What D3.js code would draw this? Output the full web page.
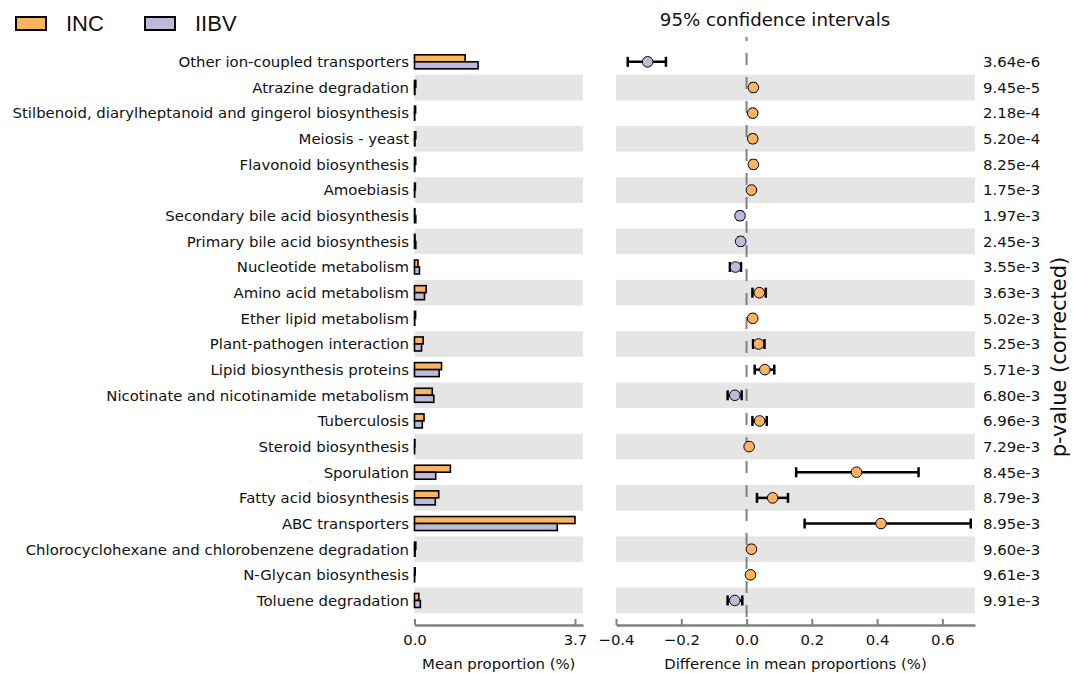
<!DOCTYPE html>
<html><head><meta charset="utf-8">
<script src="https://cdn.jsdelivr.net/npm/d3@7"></script>
<style>
html,body{margin:0;padding:0;background:#fff;}
svg{display:block;}
text{font-family:"DejaVu Sans",sans-serif;fill:#111;}
</style></head>
<body>
<svg id="chart" width="1078" height="673"></svg>
<script>
const categories = ["Other ion-coupled transporters","Atrazine degradation","Stilbenoid, diarylheptanoid and gingerol biosynthesis","Meiosis - yeast","Flavonoid biosynthesis","Amoebiasis","Secondary bile acid biosynthesis","Primary bile acid biosynthesis","Nucleotide metabolism","Amino acid metabolism","Ether lipid metabolism","Plant-pathogen interaction","Lipid biosynthesis proteins","Nicotinate and nicotinamide metabolism","Tuberculosis","Steroid biosynthesis","Sporulation","Fatty acid biosynthesis","ABC transporters","Chlorocyclohexane and chlorobenzene degradation","N-Glycan biosynthesis","Toluene degradation"];
const groups = ["INC","IIBV"];
const incMean  = [1.17,0.03,0.025,0.03,0.028,0.02,0.01,0.012,0.08,0.27,0.025,0.20,0.625,0.41,0.22,0.01,0.83,0.56,3.71,0.03,0.015,0.10];
const iibvMean = [1.47,0.01,0.006,0.011,0.007,0.005,0.03,0.03,0.115,0.23,0.006,0.163,0.57,0.446,0.18,0.002,0.49,0.48,3.30,0.015,0.003,0.136];
const diffMean = [-0.303,0.021,0.019,0.019,0.021,0.015,-0.020,-0.018,-0.034,0.039,0.019,0.037,0.056,-0.036,0.040,0.008,0.337,0.080,0.412,0.015,0.012,-0.036];
const ciLow    = [-0.364,0.014,0.013,0.012,0.014,0.010,-0.027,-0.025,-0.051,0.018,0.014,0.020,0.025,-0.058,0.018,0.005,0.152,0.032,0.178,0.010,0.008,-0.058];
const ciHigh   = [-0.247,0.028,0.025,0.026,0.028,0.020,-0.013,-0.012,-0.017,0.059,0.024,0.055,0.085,-0.015,0.062,0.011,0.527,0.127,0.687,0.020,0.016,-0.013];
const pValues  = ["3.64e-6","9.45e-5","2.18e-4","5.20e-4","8.25e-4","1.75e-3","1.97e-3","2.45e-3","3.55e-3","3.63e-3","5.02e-3","5.25e-3","5.71e-3","6.80e-3","6.96e-3","7.29e-3","8.45e-3","8.79e-3","8.95e-3","9.60e-3","9.61e-3","9.91e-3"];
const ciTicks = [-0.4,-0.2,0.0,0.2,0.4,0.6];

const colors = {INC:"#fdb462", IIBV:"#bebada"};
const bandColor = "#e5e5e5", axisColor = "#808080";
const fs = 14.9;

const svg = d3.select("#chart");
const y = d3.scaleBand().domain(categories).range([49, 613.3]).paddingInner(0).paddingOuter(0);
const maxMean = d3.max(incMean.concat(iibvMean));
const xBar = d3.scaleLinear().domain([0, maxMean*1.05]).range([414.5, 583]);
const xCI = d3.scaleLinear().domain([-0.4, 0.7]).range([616, 975]);
const cy = c => y(c) + y.bandwidth()/2;

// bands
const bandRows = categories.filter((c,i)=>i%2===1);
svg.append("g").selectAll("rect").data(bandRows).join("rect")
  .attr("x", xBar.range()[0]).attr("width", xBar.range()[1]-xBar.range()[0])
  .attr("y", d=>y(d)).attr("height", y.bandwidth()).attr("fill", bandColor);
svg.append("g").selectAll("rect").data(bandRows).join("rect")
  .attr("x", xCI.range()[0]).attr("width", xCI.range()[1]-xCI.range()[0])
  .attr("y", d=>y(d)).attr("height", y.bandwidth()).attr("fill", bandColor);

// row labels
svg.append("g").selectAll("text").data(categories).join("text")
  .attr("x", 409).attr("y", d=>cy(d)).attr("dy","0.36em")
  .attr("text-anchor","end").style("font-size", fs+"px").text(d=>d);

// bars
const barH = 7;
const gBars = svg.append("g");
gBars.selectAll("rect.inc").data(categories).join("rect").attr("class","inc")
  .attr("x", xBar(0)).attr("y", d=>cy(d)-barH).attr("height", barH)
  .attr("width", (d,i)=>xBar(incMean[i])-xBar(0))
  .attr("fill", colors.INC).attr("stroke","#000").attr("stroke-width",1.6);
gBars.selectAll("rect.iibv").data(categories).join("rect").attr("class","iibv")
  .attr("x", xBar(0)).attr("y", d=>cy(d)).attr("height", barH)
  .attr("width", (d,i)=>xBar(iibvMean[i])-xBar(0))
  .attr("fill", colors.IIBV).attr("stroke","#000").attr("stroke-width",1.6);

// zero line
svg.append("line").attr("x1", xCI(0)).attr("x2", xCI(0)).attr("y1", 37).attr("y2", 617)
  .attr("stroke", axisColor).attr("stroke-width", 2)
  .attr("stroke-dasharray","12,12").attr("stroke-dashoffset", 8);

// CI
const gCI = svg.append("g");
categories.forEach((c,i)=>{
  const g = gCI.append("g");
  const yy = cy(c);
  g.append("line").attr("x1", xCI(ciLow[i])).attr("x2", xCI(ciHigh[i])).attr("y1",yy).attr("y2",yy)
    .attr("stroke","#000").attr("stroke-width",2.5);
  [ciLow[i], ciHigh[i]].forEach(v=>{
    g.append("line").attr("x1", xCI(v)).attr("x2", xCI(v)).attr("y1", yy-5).attr("y2", yy+5)
      .attr("stroke","#000").attr("stroke-width",2.5);
  });
  g.append("circle").attr("cx", xCI(diffMean[i])).attr("cy", yy).attr("r", 5.3)
    .attr("fill", diffMean[i] >= 0 ? colors.INC : colors.IIBV)
    .attr("stroke","#000").attr("stroke-width",1);
});

// p-values
svg.append("g").selectAll("text").data(categories).join("text")
  .attr("x", 983).attr("y", d=>cy(d)).attr("dy","0.36em")
  .style("font-size", fs+"px").text((d,i)=>pValues[i]);

// axes
function styleAxis(g){
  g.select(".domain").attr("stroke", axisColor).attr("stroke-width", 2.5);
  g.selectAll(".tick line").attr("stroke", axisColor).attr("stroke-width", 2);
  g.selectAll(".tick text").style("font-size", fs+"px").style("font-family","DejaVu Sans").attr("fill","#111");
}
const axisY = 625;
svg.append("g").attr("transform",`translate(0,${axisY})`)
  .call(d3.axisBottom(xBar).tickValues([0, maxMean]).tickFormat(d3.format(".1f"))
        .tickSizeInner(-6).tickSizeOuter(0).tickPadding(9))
  .call(styleAxis);
svg.append("g").attr("transform",`translate(0,${axisY})`)
  .call(d3.axisBottom(xCI).tickValues(ciTicks).tickFormat(d3.format(".1f"))
        .tickSizeInner(-6).tickSizeOuter(0).tickPadding(9))
  .call(styleAxis);

// axis titles
svg.append("text").attr("x", (xBar.range()[0]+xBar.range()[1])/2).attr("y", 669)
  .attr("text-anchor","middle").style("font-size", fs+"px").text("Mean proportion (%)");
svg.append("text").attr("x", (xCI.range()[0]+xCI.range()[1])/2).attr("y", 669)
  .attr("text-anchor","middle").style("font-size", fs+"px").text("Difference in mean proportions (%)");
svg.append("text").attr("x", 775).attr("y", 26)
  .attr("text-anchor","middle").style("font-size","18.2px").text("95% confidence intervals");
svg.append("text").attr("transform","translate(1066,357) rotate(-90)")
  .attr("text-anchor","middle").style("font-size","21px").text("p-value (corrected)");

// legend
const legendX = [16, 145];
groups.forEach((g,i)=>{
  svg.append("rect").attr("x", legendX[i]).attr("y", 17).attr("width", 30).attr("height", 13)
    .attr("fill", colors[g]).attr("stroke","#000").attr("stroke-width",2);
  svg.append("text").attr("x", legendX[i]+50).attr("y", 31)
    .style("font-family","Liberation Sans, Arial, sans-serif").style("font-size","22px").text(g);
});
</script>
</body></html>
